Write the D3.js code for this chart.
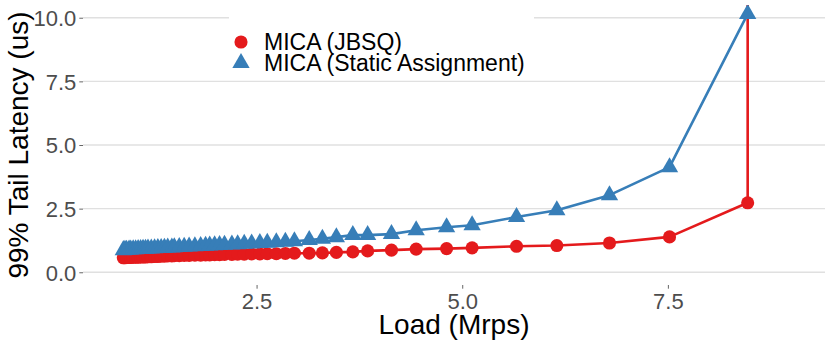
<!DOCTYPE html>
<html>
<head>
<meta charset="utf-8">
<script src="https://cdn.jsdelivr.net/npm/d3@7"></script>
<style>
  html, body { margin: 0; padding: 0; background: #fff; }
  svg { display: block; font-family: "Liberation Sans", Arial, Helvetica, sans-serif; }
</style>
</head>
<body>
<svg id="chart" width="830" height="346"></svg>
<script>
// ---- data ----
const loads = [0.88, 0.90, 0.92, 0.95, 0.97, 1.00, 1.03, 1.06, 1.09, 1.12, 1.15, 1.18, 1.22, 1.26, 1.30, 1.34,
  1.38, 1.42, 1.47, 1.50, 1.56, 1.62, 1.68, 1.75, 1.82, 1.88, 1.93, 1.99, 2.05, 2.11, 2.20, 2.27, 2.35, 2.44,
  2.54, 2.63, 2.74, 2.85, 2.96, 3.14, 3.30, 3.47, 3.67, 3.85, 4.14, 4.44, 4.81, 5.12, 5.66, 6.15, 6.79, 7.52, 8.47];
const jbsqLatency = [0.57, 0.57, 0.58, 0.58, 0.58, 0.59, 0.59, 0.59, 0.60, 0.60, 0.60, 0.61, 0.61, 0.62, 0.62, 0.63,
  0.63, 0.64, 0.64, 0.65, 0.65, 0.66, 0.66, 0.67, 0.67, 0.68, 0.68, 0.69, 0.69, 0.70, 0.70, 0.71, 0.71, 0.72,
  0.72, 0.73, 0.73, 0.74, 0.75, 0.75, 0.76, 0.78, 0.80, 0.84, 0.87, 0.91, 0.93, 0.96, 1.02, 1.05, 1.15, 1.39, 2.73];
// extra JBSQ point at the saturation load (off the top of the plotted range)
const jbsqExtraLoad = [8.47];
const jbsqExtraLatency = [13.0];
const staticLatency = [0.87, 0.88, 0.88, 0.89, 0.89, 0.90, 0.90, 0.91, 0.91, 0.92, 0.92, 0.93, 0.93, 0.94, 0.95, 0.95,
  0.96, 0.97, 0.97, 0.98, 0.99, 1.00, 1.01, 1.02, 1.03, 1.04, 1.05, 1.06, 1.07, 1.08, 1.09, 1.10, 1.12, 1.13,
  1.15, 1.16, 1.18, 1.20, 1.22, 1.27, 1.32, 1.38, 1.46, 1.46, 1.50, 1.65, 1.77, 1.85, 2.17, 2.44, 3.03, 4.13, 10.15];
const xTicks = [2.5, 5.0, 7.5];
const yTicks = [0, 2.5, 5.0, 7.5, 10.0];
const seriesNames = ["MICA (JBSQ)", "MICA (Static Assignment)"];
const seriesColors = ["#E41A1C", "#377EB8"];
const xTitle = "Load (Mrps)";
const yTitle = "99% Tail Latency (us)";

// ---- layout ----
const W = 830, H = 346;
const margin = { top: 5, right: 5, bottom: 61, left: 83 };
const pw = W - margin.left - margin.right;
const ph = H - margin.top - margin.bottom;

const svg = d3.select("#chart");
const x = d3.scaleLinear().domain([0.39, 9.41]).range([margin.left, margin.left + pw]);
const y = d3.scaleLinear().domain([-0.5, 10.5]).range([margin.top + ph, margin.top]);

svg.append("defs").append("clipPath").attr("id", "panel")
  .append("rect").attr("x", margin.left).attr("y", margin.top).attr("width", pw).attr("height", ph);

// gridlines
svg.append("g").selectAll("line").data(yTicks).join("line")
  .attr("x1", margin.left).attr("x2", margin.left + pw)
  .attr("y1", d => y(d)).attr("y2", d => y(d))
  .attr("stroke", "#e0e0e0").attr("stroke-width", 1.3);

// axes
const yAxis = d3.axisLeft(y).tickValues(yTicks).tickFormat(d3.format(".1f")).tickSize(3.7).tickPadding(3);
const gy = svg.append("g").attr("transform", `translate(${margin.left},0)`).call(yAxis);
gy.select(".domain").remove();
gy.selectAll(".tick line").attr("stroke", "#666").attr("stroke-width", 1);
gy.selectAll(".tick text").attr("fill", "#4d4d4d").attr("font-size", 22)
  .attr("font-family", "Liberation Sans, Arial, sans-serif").attr("dy", "0.36em");

const xAxis = d3.axisBottom(x).tickValues(xTicks).tickFormat(d3.format(".1f")).tickSize(3.7).tickPadding(3);
const gx = svg.append("g").attr("transform", `translate(0,${margin.top + ph})`).call(xAxis);
gx.select(".domain").remove();
gx.selectAll(".tick line").attr("stroke", "#666").attr("stroke-width", 1);
gx.selectAll(".tick text").attr("fill", "#4d4d4d").attr("font-size", 22)
  .attr("font-family", "Liberation Sans, Arial, sans-serif").attr("dy", "0.78em");

// axis titles
svg.append("text").attr("x", margin.left + pw / 2).attr("y", 334)
  .attr("text-anchor", "middle").attr("font-size", 28).attr("fill", "#000").text(xTitle);
svg.append("text").attr("transform", `translate(28,${margin.top + ph / 2}) rotate(-90)`)
  .attr("text-anchor", "middle").attr("font-size", 28).attr("fill", "#000").text(yTitle);

// data
const jbsq = loads.map((l, i) => ({ x: l, y: jbsqLatency[i] }))
  .concat(jbsqExtraLoad.map((l, i) => ({ x: l, y: jbsqExtraLatency[i] })));
const stat = loads.map((l, i) => ({ x: l, y: staticLatency[i] }));

const plot = svg.append("g").attr("clip-path", "url(#panel)");
const line = d3.line().x(d => x(d.x)).y(d => y(d.y));

plot.append("path").datum(jbsq).attr("d", line).attr("fill", "none")
  .attr("stroke", seriesColors[0]).attr("stroke-width", 2.6).attr("stroke-linejoin", "round");
plot.append("path").datum(stat).attr("d", line).attr("fill", "none")
  .attr("stroke", seriesColors[1]).attr("stroke-width", 2.6).attr("stroke-linejoin", "round");

const circ = d3.symbol().type(d3.symbolCircle).size(135);
const tri = d3.symbol().type(d3.symbolTriangle).size(130);

plot.append("g").selectAll("path").data(jbsq).join("path")
  .attr("transform", d => `translate(${x(d.x)},${y(d.y)})`).attr("d", circ).attr("fill", seriesColors[0]);
plot.append("g").selectAll("path").data(stat).join("path")
  .attr("transform", d => `translate(${x(d.x)},${y(d.y)})`).attr("d", tri).attr("fill", seriesColors[1]);

// legend
const lg = svg.append("g");
lg.append("rect").attr("x", 229).attr("y", 12).attr("width", 305).attr("height", 66).attr("fill", "#fff");
const legendSym = [circ, tri];
seriesNames.forEach((name, i) => {
  const cy = 42 + i * 21;
  lg.append("path").attr("transform", `translate(241,${cy})`).attr("d", legendSym[i]).attr("fill", seriesColors[i]);
  lg.append("text").attr("x", 264).attr("y", 50 + i * 21).attr("font-size", 23).attr("fill", "#000").text(name);
});
</script>
</body>
</html>
